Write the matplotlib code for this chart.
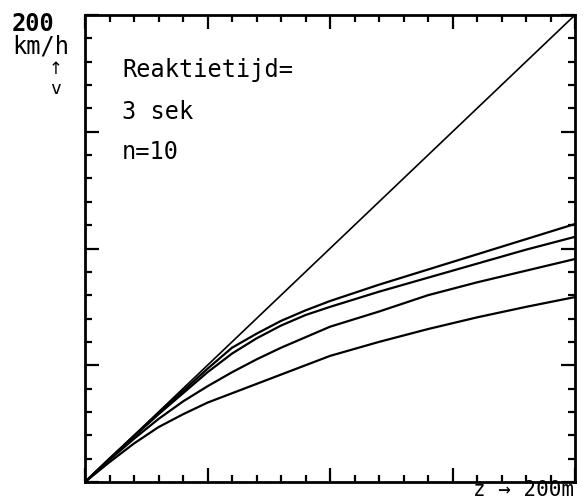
import matplotlib
matplotlib.use("Agg")
import matplotlib.pyplot as plt
from matplotlib.ticker import MultipleLocator

# data (z in m, v in km/h)
z = [0, 10, 20, 30, 40, 50, 60, 70, 80, 90, 100, 120, 140, 160, 180, 200]
curve_a = [0, 10, 19.8, 29.5, 39, 48.5, 57.5, 63.5, 69, 73.5, 77.5, 84.5, 91, 97.5, 104, 110.5]
curve_b = [0, 10, 19.5, 29, 38, 47, 55, 61.5, 67, 71.5, 75, 81.5, 87.5, 93.5, 99.5, 105]
curve_c = [0, 9.5, 18.5, 27, 34.5, 41, 47, 52.5, 57.5, 62, 66.5, 73, 80, 85.5, 90.5, 95.5]
curve_d = [0, 8.5, 16.5, 23.5, 29, 34, 38, 42, 46, 50, 54, 60, 65.5, 70.5, 75, 79.2]
diag_z = [0, 200]
diag_v = [0, 200]

W, H = 584, 501
fig = plt.figure(figsize=(W / 100, H / 100), dpi=100)
ax = fig.add_axes([85 / W, 1 - 482 / H, 490 / W, 467 / H])

for vals in (curve_a, curve_b, curve_c, curve_d):
    ax.plot(z, vals, color="black", lw=1.6)
ax.plot(diag_z, diag_v, color="black", lw=1.2)

ax.set_xlim(0, 200)
ax.set_ylim(0, 200)
ax.xaxis.set_major_locator(MultipleLocator(50))
ax.xaxis.set_minor_locator(MultipleLocator(10))
ax.yaxis.set_major_locator(MultipleLocator(50))
ax.yaxis.set_minor_locator(MultipleLocator(10))
ax.tick_params(which="both", direction="in", top=True, right=True,
               labelbottom=False, labelleft=False, color="black")
ax.tick_params(which="major", length=10, width=1.6)
ax.tick_params(which="minor", length=5, width=1.6)
for s in ax.spines.values():
    s.set_linewidth(2.0)

mono = "DejaVu Sans Mono"
fs = 17
ax.text(15.1, 176.4, "Reaktietijd=", family=mono, fontsize=fs, va="center", ha="left")
ax.text(15.1, 158.5, "3 sek", family=mono, fontsize=fs, va="center", ha="left")
ax.text(15.1, 141.3, "n=10", family=mono, fontsize=fs, va="center", ha="left")

def px(x, y):
    return x / W, 1 - y / H

fig.text(*px(12, 24), "200", family=mono, fontsize=fs, va="center", ha="left", fontweight="bold")
fig.text(*px(12, 47), "km/h", family=mono, fontsize=fs, va="center", ha="left")
fig.text(*px(56, 69), "↑", family="DejaVu Sans", fontsize=12, va="center", ha="center")
fig.text(*px(56, 89), "v", family=mono, fontsize=13, va="center", ha="center")
fig.text(*px(574, 500), "z → 200m", family=mono, fontsize=15, va="bottom", ha="right")

fig.savefig("out.png", dpi=100)
